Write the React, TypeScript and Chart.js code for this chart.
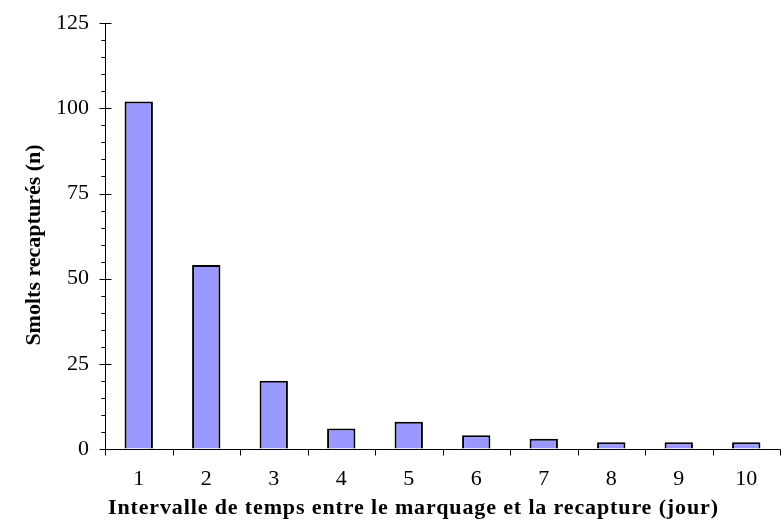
import React, { useEffect, useRef } from 'react';
import { Chart, registerables } from 'chart.js';

Chart.register(...registerables);

// ---- data ----
const categories = ['1', '2', '3', '4', '5', '6', '7', '8', '9', '10'];
const smolts = [102, 54, 20, 6, 8, 4, 3, 2, 2, 2];
const yTicks = [0, 25, 50, 75, 100, 125];
const yMinorStep = 5;
const xTitle = 'Intervalle de temps entre le marquage et la recapture (jour)';
const yTitle = 'Smolts recapturés (n)';

const FONT = "'Liberation Serif', 'Times New Roman', Times, serif";

const excelAxes = {
  id: 'excelAxes',
  afterDraw(chart: any) {
    const { ctx, scales } = chart;
    const x = scales.x;
    const y = scales.y;
    const yMax = yTicks[yTicks.length - 1];
    const ax = Math.round(x.left) + 0.5;
    const right = Math.round(x.right) + 0.5;
    const y0 = Math.round(y.getPixelForValue(0)) + 0.5;
    const yTop = Math.round(y.getPixelForValue(yMax)) + 0.5;

    ctx.save();
    ctx.strokeStyle = '#000';
    ctx.lineWidth = 1;
    ctx.beginPath();
    ctx.moveTo(ax, yTop);
    ctx.lineTo(ax, y0);
    ctx.moveTo(ax, y0);
    ctx.lineTo(right, y0);
    for (let v = 0; v <= yMax; v += yMinorStep) {
      const py = Math.round(y.getPixelForValue(v)) + 0.5;
      if (yTicks.includes(v)) {
        ctx.moveTo(ax - 6, py);
        ctx.lineTo(ax + 6, py);
      } else {
        ctx.moveTo(ax - 4, py);
        ctx.lineTo(ax, py);
      }
    }
    const n = categories.length;
    const cw = (x.right - x.left) / n;
    for (let i = 0; i <= n; i++) {
      const px = Math.round(x.left + i * cw) + 0.5;
      ctx.moveTo(px, y0);
      ctx.lineTo(px, y0 + 6);
    }
    ctx.stroke();

    // axis titles
    ctx.fillStyle = '#000';
    ctx.font = `bold 22px ${FONT}`;
    ctx.textBaseline = 'alphabetic';

    // x title with letter spacing to match the reference's spread
    (ctx as any).letterSpacing = '0px';
    const plain = ctx.measureText(xTitle).width;
    const targetW = 610;
    const ls = Math.max(0, (targetW - plain) / (xTitle.length - 1));
    (ctx as any).letterSpacing = `${ls.toFixed(2)}px`;
    ctx.textAlign = 'left';
    ctx.fillText(xTitle, 108, 514);
    (ctx as any).letterSpacing = '0px';

    // y title rotated
    ctx.save();
    ctx.translate(40, 245);
    ctx.rotate(-Math.PI / 2);
    ctx.textAlign = 'center';
    ctx.fillText(yTitle, 0, 0);
    ctx.restore();

    ctx.restore();
  },
};

export default function App() {
  const ref = useRef<HTMLCanvasElement>(null);

  useEffect(() => {
    const canvas = ref.current;
    if (!canvas) return;
    const tickFont = { family: FONT, size: 22 };
    const hiddenGrid = {
      display: true,
      color: 'rgba(0,0,0,0)',
      drawOnChartArea: false,
      drawTicks: true,
      tickLength: 6,
    };
    const chart = new Chart(canvas, {
      type: 'bar',
      data: {
        labels: categories,
        datasets: [
          {
            data: smolts,
            backgroundColor: '#9999FF',
            borderColor: '#000000',
            borderWidth: 2,
            barPercentage: 0.42,
            categoryPercentage: 1,
          },
        ],
      },
      options: {
        animation: false,
        responsive: false,
        maintainAspectRatio: false,
        layout: { padding: { top: 23, right: 2, left: 0, bottom: 0 } },
        plugins: {
          legend: { display: false },
          tooltip: { enabled: false },
          title: { display: false },
        },
        scales: {
          x: {
            offset: true,
            grid: hiddenGrid,
            border: { display: false },
            ticks: {
              color: '#000',
              font: tickFont,
              padding: 11,
              maxRotation: 0,
              autoSkip: false,
            },
            afterFit: (s: any) => {
              s.height = 75;
            },
          },
          y: {
            min: yTicks[0],
            max: yTicks[yTicks.length - 1],
            grid: hiddenGrid,
            border: { display: false },
            ticks: {
              color: '#000',
              font: tickFont,
              padding: 10,
            },
            afterBuildTicks: (s: any) => {
              s.ticks = yTicks.map((v) => ({ value: v }));
            },
            afterFit: (s: any) => {
              s.width = 105;
            },
          },
        },
      },
      plugins: [excelAxes],
    } as any);
    return () => chart.destroy();
  }, []);

  return (
    <div
      style={{
        position: 'fixed',
        left: 0,
        top: 0,
        width: 782,
        height: 524,
        background: '#fff',
      }}
    >
      <canvas ref={ref} width={782} height={524} style={{ display: 'block' }} />
    </div>
  );
}
